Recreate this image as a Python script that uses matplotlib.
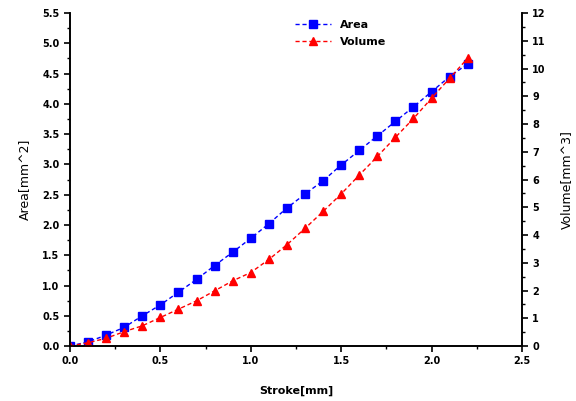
import matplotlib.pyplot as plt
from matplotlib.ticker import MultipleLocator

stroke = [0.0, 0.1, 0.2, 0.3, 0.4, 0.5, 0.6, 0.7, 0.8, 0.9, 1.0, 1.1,
          1.2, 1.3, 1.4, 1.5, 1.6, 1.7, 1.8, 1.9, 2.0, 2.1, 2.2]
area = [0.0, 0.07, 0.18, 0.31, 0.50, 0.68, 0.89, 1.10, 1.33, 1.55, 1.78, 2.02,
        2.28, 2.51, 2.73, 2.99, 3.23, 3.47, 3.71, 3.95, 4.20, 4.45, 4.66]
volume = [0.0, 0.12, 0.28, 0.52, 0.73, 1.03, 1.33, 1.63, 1.99, 2.35, 2.65, 3.12,
          3.65, 4.24, 4.85, 5.48, 6.16, 6.83, 7.52, 8.20, 8.93, 9.65, 10.37]

plt.rcParams['font.family'] = 'DejaVu Sans'
fig = plt.figure(figsize=(5.76, 4.01), dpi=100)
ax = fig.add_axes([0.1215, 0.137, 0.7847, 0.8306])
ax2 = ax.twinx()

dash = (0, (3, 2))
l1, = ax.plot(stroke, area, color='#0000ff', lw=1, ls=dash, marker='s',
              markersize=5.3, label='Area')
l2, = ax2.plot(stroke, volume, color='#ff0000', lw=1, ls=dash, marker='^',
               markersize=6, label='Volume')

ax.set_xlim(0, 2.5)
ax.set_ylim(0, 5.5)
ax2.set_ylim(0, 12)
ax.xaxis.set_major_locator(MultipleLocator(0.5))
ax.xaxis.set_minor_locator(MultipleLocator(0.25))
ax.yaxis.set_major_locator(MultipleLocator(0.5))
ax.yaxis.set_minor_locator(MultipleLocator(0.25))
ax2.yaxis.set_major_locator(MultipleLocator(1))
ax2.yaxis.set_minor_locator(MultipleLocator(0.5))

for a in (ax, ax2):
    a.spines['top'].set_visible(False)
    for s in a.spines.values():
        s.set_linewidth(1.2)
    a.tick_params(which='major', direction='out', length=4, width=1.2,
                  labelsize=7)
    a.tick_params(which='minor', direction='out', length=2.5, width=1)

ax.set_xticklabels(['%.1f' % v for v in ax.get_xticks()], fontweight='bold')
ax.set_yticklabels(['%.1f' % v for v in ax.get_yticks()], fontweight='bold')
ax2.set_yticklabels(['%d' % v for v in ax2.get_yticks()], fontweight='bold')

ax.set_xlabel('Stroke[mm]', fontsize=8, fontweight='bold', labelpad=14)
ax.set_ylabel('Area[mm^2]', fontsize=9, labelpad=8)
ax2.set_ylabel('Volume[mm^3]', fontsize=9, rotation=90, labelpad=10)

leg = fig.legend(handles=[l1, l2], loc='upper left',
                 bbox_to_anchor=(0.495, 0.975), frameon=False,
                 handlelength=3.2, labelspacing=0.6,
                 prop={'weight': 'bold', 'size': 8})

fig.savefig('out.png', dpi=100)
